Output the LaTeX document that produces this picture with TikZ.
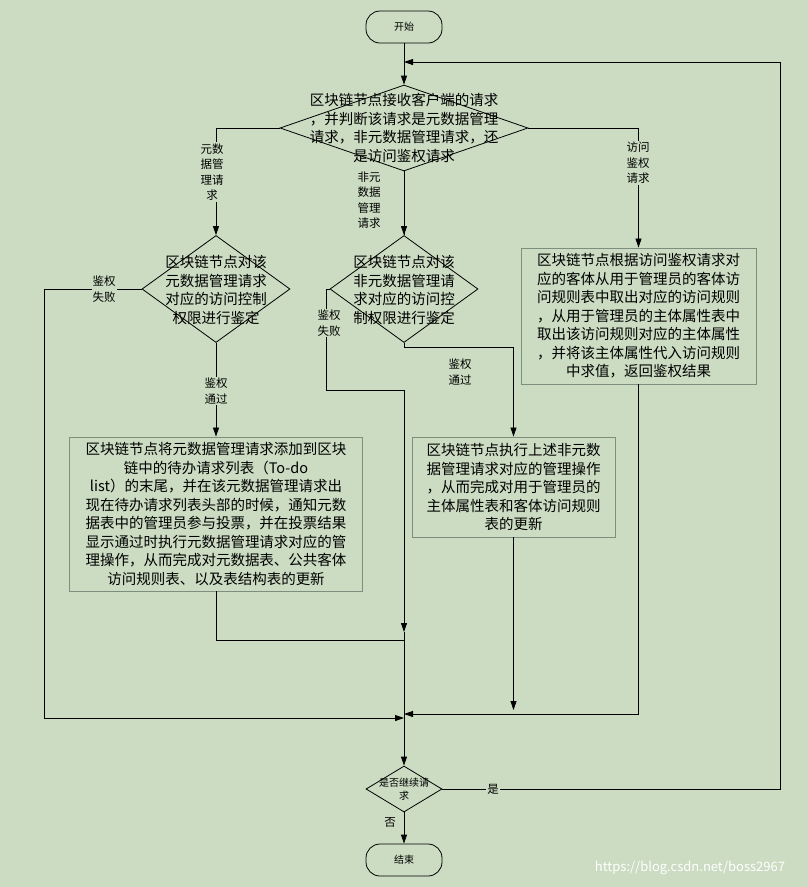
\documentclass[tikz,border=0pt]{standalone}
\usepackage{fontspec}
\setmainfont{Noto Sans CJK SC}
\usetikzlibrary{shapes.geometric,arrows.meta}
\definecolor{bg}{HTML}{CBDCC2}
\definecolor{bx}{HTML}{7E8E7E}
\begin{document}
\begin{tikzpicture}[x=1pt,y=-1pt,
  line width=0.8pt,
  arr/.style={-{Triangle[length=9pt,width=6pt]}},
  term/.style={draw,rounded corners=14pt,minimum width=76pt,minimum height=32pt,inner sep=0pt,font=\fontsize{10}{12}\selectfont},
  dia/.style={draw,diamond,inner sep=0pt},
  dtext/.style={align=center,font=\fontsize{14.5}{18.5}\selectfont,inner sep=0pt},
  box/.style={draw=bx,line width=0.9pt,align=center,font=\fontsize{14.5}{18.5}\selectfont,inner sep=0pt},
  lab/.style={align=center,font=\fontsize{11.5}{15.5}\selectfont,fill=bg,inner sep=1pt}]
\fill[bg] (0,0) rectangle (808,887);
\useasboundingbox (0,0) rectangle (808,887);
\node[term] (start) at (404,27) {开始};
\node[term] (end) at (404,860) {结束};
\node[dia,minimum width=248pt,minimum height=86pt] (d1) at (404,128) {};
\node[dtext] (d1t) at (404,128) {区块链节点接收客户端的请求\\，并判断该请求是元数据管理\\请求，非元数据管理请求，还\\是访问鉴权请求};
\node[dia,minimum width=148pt,minimum height=107pt] (d2) at (216,289) {};
\node[dtext] (d2t) at (216,290) {区块链节点对该\\元数据管理请求\\对应的访问控制\\权限进行鉴定};
\node[dia,minimum width=148pt,minimum height=107pt] (d3) at (404,289) {};
\node[dtext] (d3t) at (404,290) {区块链节点对该\\非元数据管理请\\求对应的访问控\\制权限进行鉴定};
\node[box,minimum width=235pt,minimum height=136pt] (b3) at (638.5,316) {区块链节点根据访问鉴权请求对\\应的客体从用于管理员的客体访\\问规则表中取出对应的访问规则\\，从用于管理员的主体属性表中\\取出该访问规则对应的主体属性\\，并将该主体属性代入访问规则\\中求值，返回鉴权结果};
\node[box,minimum width=293pt,minimum height=154pt] (b1) at (216,514) {区块链节点将元数据管理请求添加到区块\\链中的待办请求列表（To-do\\list）的末尾，并在该元数据管理请求出\\现在待办请求列表头部的时候，通知元数\\据表中的管理员参与投票，并在投票结果\\显示通过时执行元数据管理请求对应的管\\理操作，从而完成对元数据表、公共客体\\访问规则表、以及表结构表的更新};
\node[box,minimum width=203pt,minimum height=100pt] (b2) at (513.5,487) {区块链节点执行上述非元数\\据管理请求对应的管理操作\\，从而完成对用于管理员的\\主体属性表和客体访问规则\\表的更新};
\node[dia,minimum width=76pt,minimum height=46pt] (dec) at (404,789) {};
\node[align=center,font=\fontsize{10}{13}\selectfont,inner sep=0pt] (dect) at (404,789) {是否继续请\\求};
\coordinate (j0) at (404,62);
\coordinate (jm) at (404,632);
\coordinate (jl) at (404,718);
\coordinate (jr) at (404,714);
% connectors
\draw[arr] (start) -- (d1.north);
\draw[arr] (dec.east) -- (780,789) |- (j0);
\draw[arr] (d1.west) -| (d2.north);
\draw (d1.south) -- (d3.north);
\draw[arr] (404,200) -- (d3.north);
\draw[arr] (d1.east) -| (b3.north);
\draw[arr] (d2.west) -- (44,289) -- (44,718) -- (jl);
\draw[arr] (d2.south) -- (b1.north);
\draw (d3.west) -- (326,289) -- (326,390) -- (404,390);
\draw[arr] (404,390) -- (jm);
\draw[arr] (jm) -- (dec.north);
\draw (b1.south) |- (404,640);
\draw[arr] (d3.south) -- (404,347) -| (b2.north);
\draw[arr] (b2.south) -- (513.5,710);
\draw[arr] (b3.south) |- (jr);
\draw[arr] (dec.south) -- (end.north);
% labels
\node[lab] (l1) at (212,172) {元数\\据管\\理请\\求};
\node[lab,fill=none] (l2) at (369,200) {非元\\数据\\管理\\请求};
\node[lab] (l3) at (638,163) {访问\\鉴权\\请求};
\node[lab] (l4) at (104,289) {鉴权\\失败};
\node[lab] (l5) at (216,391) {鉴权\\通过};
\node[lab] (l6) at (329,323) {鉴权\\失败};
\node[lab,fill=none] (l7) at (460,372) {鉴权\\通过};
\node[lab] (l8) at (493,789) {是};
\node[lab,fill=none] (l9) at (390,822) {否};
\node[font=\fontsize{13}{15}\selectfont,text=white,inner sep=0pt] (wm) at (690,868) {https://blog.csdn.net/boss2967};
\end{tikzpicture}
\end{document}
